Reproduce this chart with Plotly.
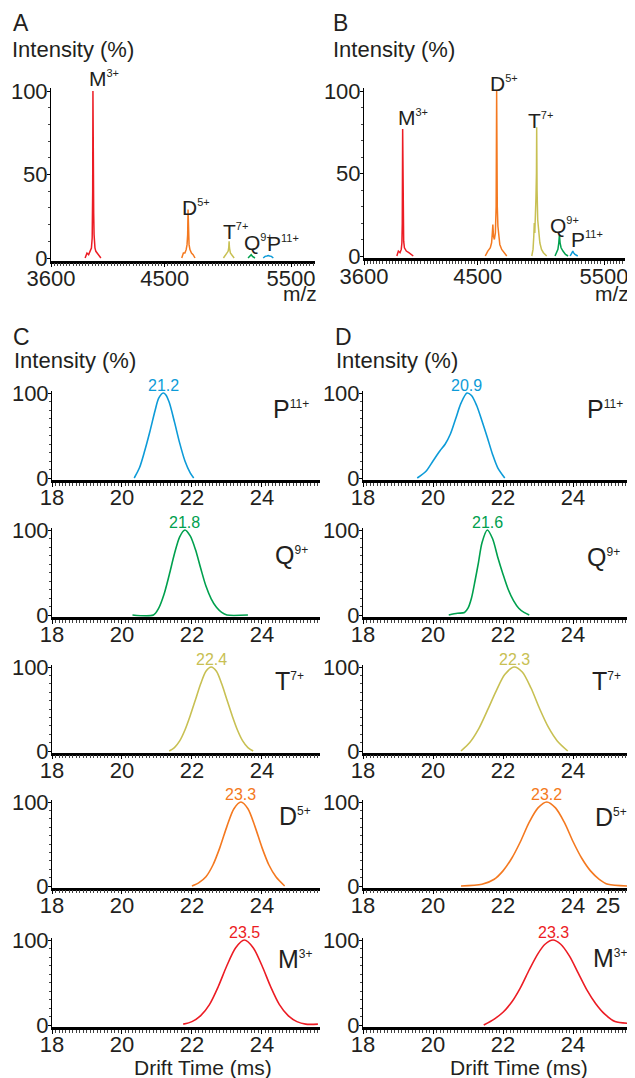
import plotly.graph_objects as go

W, H = 635, 1078          # target window
OFF = 8                   # page body margin of the browser
FW, FH = W - OFF, H - OFF # figure size so that it fits the window
FONT = "Liberation Sans, Arial, Helvetica, sans-serif"
INK = "#231F20"
COLORS = {"M": "#EC1C24", "D": "#F47920", "T": "#C8C053", "Q": "#00A04E", "P": "#0D9BD8"}

# ---------------- Panel A : mass spectrum (m/z, intensity %) ----------------
A_M3_mz = [3870, 3885, 3898, 3910, 3920, 3926, 3930, 3932, 3934, 3938, 3941, 3944, 3948, 3955, 3965, 3980, 3995]
A_M3_int = [0, 3, 2, 4, 6, 12, 40, 100, 35, 27, 14, 10, 6, 4, 3, 1, 0]
A_D5_mz = [4635, 4648, 4660, 4670, 4677, 4682, 4685, 4688, 4693, 4700, 4712, 4725, 4740]
A_D5_int = [0, 3, 3, 5, 8, 14, 29, 14, 8, 5, 3, 2, 0]
A_T7_mz = [4965, 4980, 4992, 5002, 5007, 5010, 5013, 5020, 5032, 5050]
A_T7_int = [0, 1.5, 2.5, 4, 6, 10, 6, 3, 1.5, 0]
A_Q9_mz = [5160, 5175, 5185, 5195, 5215]
A_Q9_int = [0, 1, 2, 1, 0]
A_P11_mz = [5280, 5295, 5310, 5320, 5330, 5345, 5360]
A_P11_int = [0, 1, 1.2, 1.5, 1.2, 1, 0]

# ---------------- Panel B : mass spectrum ----------------
B_M3_mz = [3860, 3872, 3885, 3895, 3900, 3903, 3906, 3910, 3914, 3920, 3935, 3955, 3975, 3990]
B_M3_int = [0, 3, 2, 4, 8, 20, 77, 14, 9, 5, 3, 2, 1, 0]
B_D5_mz = [4560, 4580, 4600, 4610, 4616, 4620, 4625, 4632, 4640, 4646, 4650, 4652, 4655, 4660, 4665, 4675, 4690, 4710, 4730]
B_D5_int = [0, 3, 5, 8, 14, 19, 12, 10, 14, 30, 100, 45, 30, 18, 12, 7, 4, 2, 0]
B_T7_mz = [4928, 4938, 4944, 4948, 4952, 4957, 4961, 4965, 4967, 4970, 4975, 4982, 4992, 5005, 5020, 5046]
B_T7_int = [0, 4, 12, 20, 14, 22, 35, 50, 78, 40, 22, 14, 8, 4, 2, 0]
B_Q9_mz = [5112, 5125, 5135, 5142, 5147, 5152, 5160, 5175, 5195, 5215]
B_Q9_int = [0, 2, 4, 8, 13, 8, 5, 3, 1, 0]
B_P11_mz = [5232, 5242, 5250, 5253, 5258, 5270, 5292]
B_P11_int = [0, 1.5, 2.5, 3, 2, 1, 0]

MZ_TICKS = [3600, 4500, 5500]

# ---------------- Panel C : arrival time distributions (ms, intensity %) ----------------
C_P11_t = [20.35, 20.5, 20.65, 20.8, 20.95, 21.05, 21.18, 21.25, 21.35, 21.5, 21.65, 21.8, 21.95, 22.05]
C_P11_i = [0, 12, 32, 55, 80, 94, 100, 98, 89, 66, 41, 20, 6, 0]
C_Q9_t = [20.3, 20.9, 21.05, 21.2, 21.35, 21.5, 21.65, 21.8, 21.95, 22.1, 22.25, 22.4, 22.55, 22.7, 22.85, 23.0, 23.6]
C_Q9_i = [0, 0, 8, 24, 47, 72, 92, 100, 93, 77, 55, 34, 19, 9, 3, 0, 0]
C_T7_t = [21.35, 21.5, 21.65, 21.8, 21.95, 22.1, 22.25, 22.4, 22.55, 22.7, 22.85, 23.0, 23.15, 23.3, 23.45, 23.6, 23.75]
C_T7_i = [0, 4, 12, 25, 42, 61, 80, 95, 100, 95, 80, 61, 42, 25, 12, 4, 0]
C_D5_t = [22.0, 22.2, 22.4, 22.6, 22.8, 23.0, 23.2, 23.4, 23.6, 23.8, 24.0, 24.2, 24.4, 24.65]
C_D5_i = [0, 4, 11, 25, 46, 71, 92, 100, 92, 71, 46, 25, 11, 0]
C_M3_t = [21.75, 22.0, 22.25, 22.5, 22.75, 23.0, 23.25, 23.5, 23.75, 24.0, 24.25, 24.5, 24.75, 25.0, 25.25, 25.6]
C_M3_i = [1, 4, 11, 24, 45, 70, 91, 100, 91, 70, 45, 24, 11, 4, 1, 1]
C_LABELS = ["21.2", "21.8", "22.4", "23.3", "23.5"]

# ---------------- Panel D : arrival time distributions ----------------
D_P11_t = [19.55, 19.8, 20.0, 20.2, 20.35, 20.5, 20.65, 20.8, 20.97, 21.1, 21.25, 21.4, 21.55, 21.7, 21.85, 22.05]
D_P11_i = [0, 8, 20, 32, 40, 52, 70, 88, 100, 97, 85, 67, 48, 28, 12, 0]
D_Q9_t = [20.45, 20.7, 20.9, 21.0, 21.1, 21.2, 21.3, 21.4, 21.55, 21.7, 21.85, 22.0, 22.15, 22.3, 22.45, 22.6, 22.75]
D_Q9_i = [0, 2, 3, 8, 20, 40, 62, 85, 100, 90, 68, 48, 30, 17, 8, 3, 0]
D_T7_t = [20.8, 21.05, 21.3, 21.55, 21.8, 22.05, 22.32, 22.55, 22.8, 23.05, 23.3, 23.55, 23.85]
D_T7_i = [0, 10, 26, 48, 71, 91, 100, 94, 75, 50, 28, 12, 0]
D_D5_t = [20.8, 21.4, 21.75, 22.0, 22.25, 22.5, 22.75, 23.0, 23.25, 23.5, 23.75, 24.0, 24.25, 24.5, 24.75, 25.0, 25.6]
D_D5_i = [0, 2, 8, 18, 33, 53, 76, 93, 100, 93, 76, 53, 33, 18, 8, 2, 0]
D_M3_t = [21.45, 21.75, 22.0, 22.25, 22.5, 22.75, 23.0, 23.2, 23.43, 23.65, 23.9, 24.15, 24.4, 24.65, 24.9, 25.2, 25.6]
D_M3_i = [0, 7, 15, 27, 44, 65, 84, 95, 100, 95, 81, 61, 41, 25, 13, 4, 2]
D_LABELS = ["20.9", "21.6", "22.3", "23.2", "23.3"]

DT_TICKS = [18, 20, 22, 24]
DT_TICKS_D5 = [18, 20, 22, 24, 25]

SPECIES = ["P", "Q", "T", "D", "M"]
CHARGES = ["11+", "9+", "7+", "5+", "3+"]

# ---------------- layout helpers (pixel geometry, window coordinates) ----------------
layout = dict(
    template="none",
    width=FW, height=FH, margin=dict(l=0, r=0, t=0, b=0, pad=0, autoexpand=False),
    paper_bgcolor="white", plot_bgcolor="white", showlegend=False,
    font=dict(family=FONT, color=INK, size=21),
)
annotations = []
traces = []


def xdom(x0, x1):
    return [(x0 - OFF) / FW, (x1 - OFF) / FW]


def ydom(p100, p0, lo, hi):
    per = (p0 - p100) / 100.0
    top = p100 - (hi - 100) * per - OFF
    bot = p0 + (0 - lo) * per - OFF
    return [1 - bot / FH, 1 - top / FH]


def add_axes(i, xd, xr, xticks, yd, yr, yticks, xminor, yminor):
    s = "" if i == 1 else str(i)
    layout["xaxis" + s] = dict(
        domain=xd, range=xr, anchor="y" + s, tickmode="array", tickvals=xticks,
        ticktext=[str(v) for v in xticks], showline=True, linewidth=2.6, linecolor="black",
        ticks="outside", ticklen=4, tickwidth=1, tickcolor="black", automargin=False,
        ticklabelstandoff=-8,
        minor=dict(dtick=xminor, tick0=xr[0], ticks="outside", ticklen=3, tickwidth=0.7, tickcolor="#444"),
        showgrid=False, zeroline=False, layer="below traces", fixedrange=True,
        tickfont=dict(size=22, color=INK, family=FONT),
    )
    layout["yaxis" + s] = dict(
        domain=yd, range=yr, anchor="x" + s, tickmode="array", tickvals=yticks,
        ticktext=[str(v) for v in yticks], showline=True, linewidth=1, linecolor="black",
        ticks="outside", ticklen=3, tickwidth=1, tickcolor="black", automargin=False,
        ticklabelstandoff=-5,
        minor=dict(dtick=yminor, tick0=0, ticks="outside", ticklen=2, tickwidth=0.8, tickcolor="#444"),
        showgrid=False, zeroline=False, layer="below traces", fixedrange=True,
        tickfont=dict(size=22, color=INK, family=FONT),
    )


def ann(xp, yp, text, size, color=INK, xanchor="left", yanchor="middle"):
    annotations.append(dict(
        x=(xp - OFF) / FW, y=1 - (yp - OFF) / FH, xref="paper", yref="paper", text=text,
        showarrow=False, xanchor=xanchor, yanchor=yanchor, borderpad=0, borderwidth=0,
        font=dict(size=size, color=color, family=FONT),
    ))


def ion(letter, charge, supsize):
    return f'{letter}<sup><span style="font-size:{supsize}px">{charge}</span></sup>'


# ---------------- mass spectra ----------------
spectra = {
    1: [("M", A_M3_mz, A_M3_int), ("D", A_D5_mz, A_D5_int), ("T", A_T7_mz, A_T7_int),
        ("Q", A_Q9_mz, A_Q9_int), ("P", A_P11_mz, A_P11_int)],
    2: [("M", B_M3_mz, B_M3_int), ("D", B_D5_mz, B_D5_int), ("T", B_T7_mz, B_T7_int),
        ("Q", B_Q9_mz, B_Q9_int), ("P", B_P11_mz, B_P11_int)],
}
add_axes(1, xdom(51, 315), [3600, 5690], MZ_TICKS, ydom(91, 258, -1.5, 102), [-1.5, 102], [0, 50, 100], 25, 10)
add_axes(2, xdom(364, 625), [3600, 5666], MZ_TICKS, ydom(91, 256, -1.5, 102), [-1.5, 102], [0, 50, 100], 25, 10)
for i, peaks in spectra.items():
    s = "" if i == 1 else str(i)
    for sp, mz, inten in peaks:
        traces.append(go.Scatter(x=mz, y=inten, mode="lines", line=dict(color=COLORS[sp], width=1.5),
                                 xaxis="x" + s, yaxis="y" + s, hoverinfo="skip"))

# ---------------- drift time panels ----------------
drift_C = [(C_P11_t, C_P11_i), (C_Q9_t, C_Q9_i), (C_T7_t, C_T7_i), (C_D5_t, C_D5_i), (C_M3_t, C_M3_i)]
drift_D = [(D_P11_t, D_P11_i), (D_Q9_t, D_Q9_i), (D_T7_t, D_T7_i), (D_D5_t, D_D5_i), (D_M3_t, D_M3_i)]
ROWS = [(393, 478), (530, 615), (667, 751), (802, 886), (940, 1025)]

for col, (data, labels, xd, xr) in enumerate([
        (drift_C, C_LABELS, xdom(52, 320), [18, 25.66]),
        (drift_D, D_LABELS, xdom(363, 629), [18, 25.6])]):
    for r in range(5):
        i = 3 + col * 5 + r
        s = str(i)
        p100, p0 = ROWS[r]
        ticks = DT_TICKS_D5 if (col == 1 and SPECIES[r] == "D") else DT_TICKS
        add_axes(i, xd, xr, ticks, ydom(p100, p0, -2, 102), [-2, 102], [0, 100], 0.1, 10)
        t, inten = data[r]
        color = COLORS[SPECIES[r]]
        traces.append(go.Scatter(
            x=t, y=inten, mode="lines", line=dict(color=color, width=1.6, shape="spline", smoothing=0.8),
            xaxis="x" + s, yaxis="y" + s, hoverinfo="skip"))
        kmax = inten.index(max(inten))
        annotations.append(dict(
            x=t[kmax], y=100, xref="x" + s, yref="y" + s, text=labels[r], showarrow=False,
            xanchor="center", yanchor="bottom", yshift=-1, borderpad=0, borderwidth=0,
            font=dict(size=16, color=color, family=FONT)))

# ---------------- text ----------------
ann(13, 23, "A", 23)
ann(333, 23, "B", 23)
ann(12, 49, "Intensity (%)", 22)
ann(333, 49, "Intensity (%)", 22)
ann(317, 293, "m/z", 21, xanchor="right")
ann(629, 293, "m/z", 21, xanchor="right")
ann(13, 337, "C", 23)
ann(335, 337, "D", 23)
ann(14, 361, "Intensity (%)", 22)
ann(336, 361, "Intensity (%)", 22)
ann(203, 1067, "Drift Time (ms)", 21, xanchor="center")
ann(519, 1067, "Drift Time (ms)", 21, xanchor="center")

# ion labels on spectra (left edge of letter, letter centre)
A_ION_POS = [(89, 78), (182, 207), (223, 231), (244, 243), (267, 244)]
B_ION_POS = [(398, 117), (490, 84), (528, 120), (550, 225), (571, 240)]
SPEC_ORDER = ["M", "D", "T", "Q", "P"]
SPEC_CHG = ["3+", "5+", "7+", "9+", "11+"]
for (xp, yp), sp, ch in zip(A_ION_POS, SPEC_ORDER, SPEC_CHG):
    ann(xp, yp, ion(sp, ch, 11), 21)
for (xp, yp), sp, ch in zip(B_ION_POS, SPEC_ORDER, SPEC_CHG):
    ann(xp, yp, ion(sp, ch, 11), 21)

# ion labels on drift panels
C_ION_POS = [(273, 409), (275, 555), (275, 681), (279, 816), (278, 959)]
D_ION_POS = [(587, 409), (587, 557), (592, 681), (595, 817), (593, 958)]
for r in range(5):
    ann(C_ION_POS[r][0], C_ION_POS[r][1], ion(SPECIES[r], CHARGES[r], 12), 25)
    ann(D_ION_POS[r][0], D_ION_POS[r][1], ion(SPECIES[r], CHARGES[r], 12), 25)

layout["annotations"] = annotations
fig = go.Figure(data=traces, layout=layout)
fig.write_html("out.html")
